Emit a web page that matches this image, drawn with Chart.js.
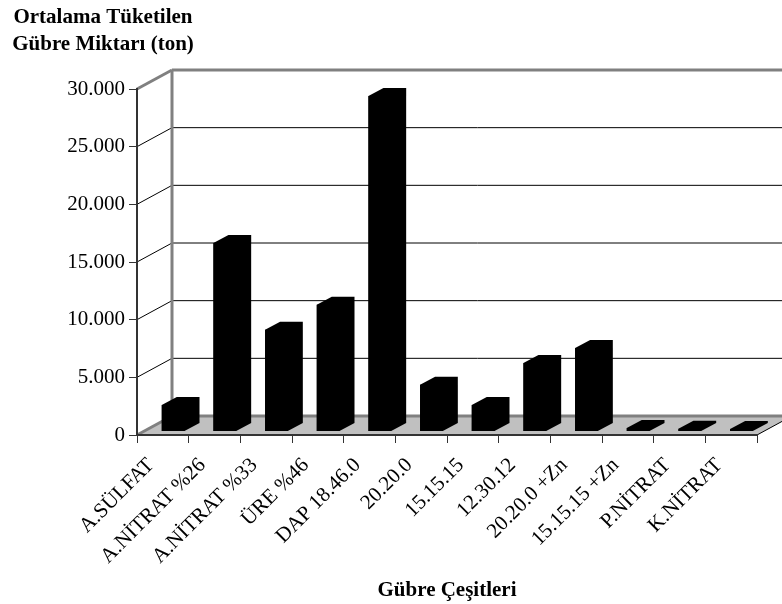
<!DOCTYPE html>
<html>
<head>
<meta charset="utf-8">
<style>
    html, body { margin: 0; padding: 0; background: #fff; }
    canvas { display: block; }
</style>
<script src="https://cdn.jsdelivr.net/npm/chart.js@4"></script>
</head>
<body>
<canvas id="gubreChart" width="782" height="604"></canvas>
<script>
const categories = ["A.SÜLFAT", "A.NİTRAT %26", "A.NİTRAT %33", "ÜRE %46", "DAP 18.46.0", "20.20.0", "15.15.15", "12.30.12", "20.20.0 +Zn", "15.15.15 +Zn", "P.NİTRAT", "K.NİTRAT"];
const values = [2300, 16350, 8820, 10980, 29100, 4050, 2300, 5950, 7230, 300, 230, 220];
const yTickLabels = ["0", "5.000", "10.000", "15.000", "20.000", "25.000", "30.000"];
const yTitleLines = ["Ortalama Tüketilen", "Gübre Miktarı (ton)"];
const xTitle = "Gübre Çeşitleri";

const fontFamily = "'Liberation Serif', 'Times New Roman', serif";

// 3D look: back wall offset and bar depth
const wallDx = 35;
const wallDy = 19;
const barDx = 15;
const barDy = 8;
const barShiftX = 10.3;
const barShiftY = 3.5;

function line(ctx, x1, y1, x2, y2, color, width) {
    ctx.strokeStyle = color;
    ctx.lineWidth = width;
    ctx.beginPath();
    ctx.moveTo(x1, y1);
    ctx.lineTo(x2, y2);
    ctx.stroke();
}

const walls = {
    id: "walls",
    beforeDraw(chart) {
        const ctx = chart.ctx;
        const { left, right, top, bottom } = chart.chartArea;
        const yScale = chart.scales.y;

        ctx.save();

        // floor
        ctx.fillStyle = "#c0c0c0";
        ctx.beginPath();
        ctx.moveTo(left, bottom);
        ctx.lineTo(left + wallDx, bottom - wallDy);
        ctx.lineTo(right + wallDx, bottom - wallDy);
        ctx.lineTo(right, bottom);
        ctx.closePath();
        ctx.fill();

        // gridlines, side wall then back wall
        yScale.ticks.forEach(tick => {
            const y = yScale.getPixelForValue(tick.value);
            if (tick.value === 0 || tick.value === yScale.max) return;
            line(ctx, left, y, left + wallDx, y - wallDy, "#000", 1);
            line(ctx, left + wallDx, y - wallDy, right + wallDx, y - wallDy, "#000", 1);
        });

        line(ctx, left + wallDx, top - wallDy, left + wallDx, bottom - wallDy, "#808080", 3);
        line(ctx, left, top, left + wallDx, top - wallDy, "#808080", 3);
        line(ctx, left + wallDx, top - wallDy, right + wallDx, top - wallDy, "#808080", 3);
        line(ctx, left + wallDx, bottom - wallDy, right + wallDx, bottom - wallDy, "#808080", 3);
        line(ctx, left, bottom, left + wallDx, bottom - wallDy, "#808080", 3);
        line(ctx, right, bottom, right + wallDx, bottom - wallDy, "#000", 1);

        ctx.restore();
    },
    beforeDatasetsDraw(chart) {
        const ctx = chart.ctx;
        ctx.save();
        ctx.translate(barShiftX, -barShiftY);

        // whole outline of every bar, chart.js paints the front again on top
        ctx.fillStyle = "#000";
        chart.getDatasetMeta(0).data.forEach(bar => {
            const barLeft = bar.x - bar.width / 2;
            const barRight = bar.x + bar.width / 2;
            ctx.beginPath();
            ctx.moveTo(barLeft, bar.y);
            ctx.lineTo(barLeft + barDx, bar.y - barDy);
            ctx.lineTo(barRight + barDx, bar.y - barDy);
            ctx.lineTo(barRight + barDx, bar.base - barDy);
            ctx.lineTo(barRight, bar.base);
            ctx.lineTo(barLeft, bar.base);
            ctx.closePath();
            ctx.fill();
        });
    },
    afterDatasetsDraw(chart) {
        chart.ctx.restore();
    },
    afterDraw(chart) {
        const ctx = chart.ctx;
        ctx.save();
        ctx.fillStyle = "#000";
        ctx.font = "bold 21px " + fontFamily;
        ctx.textAlign = "center";
        ctx.textBaseline = "middle";
        ctx.fillText(yTitleLines[0], 103, 18);
        ctx.fillText(yTitleLines[1], 103, 45);
        ctx.restore();
    }
};

new Chart(document.getElementById("gubreChart"), {
    type: "bar",
    data: {
        labels: categories,
        datasets: [{
            data: values,
            backgroundColor: "#000",
            borderWidth: 0,
            categoryPercentage: 1,
            barPercentage: 0.44,
            clip: false
        }]
    },
    options: {
        responsive: false,
        animation: false,
        layout: {
            autoPadding: false,
            padding: { left: 0, right: 25, top: 89, bottom: 0 }
        },
        plugins: {
            legend: { display: false },
            title: { display: false },
            tooltip: { enabled: false }
        },
        scales: {
            x: {
                afterFit: scale => { scale.height = 169; },
                border: { color: "#333", width: 2 },
                grid: { drawOnChartArea: false, color: "#333", tickLength: 8, lineWidth: 1 },
                title: {
                    display: true,
                    text: xTitle,
                    color: "#000",
                    font: { family: fontFamily, size: 21, weight: "bold" },
                    padding: { top: 0, bottom: 1 }
                },
                ticks: {
                    autoSkip: false,
                    minRotation: 45,
                    maxRotation: 45,
                    padding: 10,
                    labelOffset: -12,
                    color: "#000",
                    font: { family: fontFamily, size: 21 }
                }
            },
            y: {
                min: 0,
                max: 30000,
                afterFit: scale => { scale.width = 137; },
                border: { color: "#333", width: 2 },
                grid: { drawOnChartArea: false, color: "#333", tickLength: 8, lineWidth: 1 },
                ticks: {
                    stepSize: 5000,
                    padding: 4,
                    color: "#000",
                    font: { family: fontFamily, size: 21 },
                    callback: value => yTickLabels[value / 5000]
                }
            }
        }
    },
    plugins: [walls]
});
</script>
</body>
</html>
